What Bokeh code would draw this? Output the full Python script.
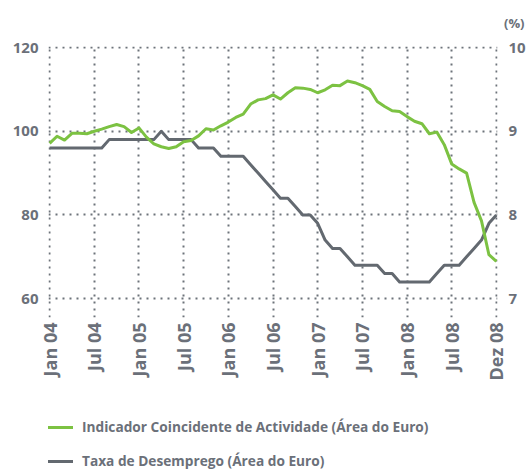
from math import pi
from bokeh.plotting import figure
from bokeh.layouts import column
from bokeh.models import Range1d, LinearAxis, FixedTicker, Legend, LegendItem, Title
from bokeh.embed import file_html
from bokeh.resources import INLINE

# month index (0 = Jan 04)
months = list(range(61))
tick_pos = [0, 6, 12, 18, 24, 30, 36, 42, 48, 54, 60]
tick_labels = ["Jan 04", "Jul 04", "Jan 05", "Jul 05", "Jan 06", "Jul 06",
               "Jan 07", "Jul 07", "Jan 08", "Jul 08", "Dez 08"]
left_ticks = [60, 80, 100, 120]
right_ticks = [7, 8, 9, 10]

indicador = [97.1, 98.8, 97.9, 99.5, 99.5, 99.4, 100.0, 100.5, 101.1, 101.6,
             101.1, 99.7, 100.8, 98.6, 97.0, 96.3, 95.9, 96.3, 97.5, 97.8,
             98.9, 100.6, 100.3, 101.3, 102.2, 103.3, 104.1, 106.5, 107.5, 107.8,
             108.7, 107.7, 109.2, 110.4, 110.3, 110.0, 109.2, 109.9, 111.0, 110.9,
             112.0, 111.6, 110.9, 110.0, 107.1, 105.9, 104.9, 104.7, 103.5, 102.4,
             101.8, 99.4, 99.8, 96.8, 92.2, 91.0, 90.0, 83.0, 78.6, 70.5, 68.9]

desemprego = [8.8, 8.8, 8.8, 8.8, 8.8, 8.8, 8.8, 8.8,
              8.9, 8.9, 8.9, 8.9, 8.9, 8.9, 8.9,
              9.0,
              8.9, 8.9, 8.9, 8.9,
              8.8, 8.8, 8.8,
              8.7, 8.7, 8.7, 8.7,
              8.6, 8.5, 8.4, 8.3, 8.2, 8.2, 8.1, 8.0, 8.0, 7.9,
              7.7, 7.6, 7.6, 7.5, 7.4, 7.4, 7.4, 7.4, 7.3, 7.3,
              7.2, 7.2, 7.2, 7.2, 7.2,
              7.3, 7.4, 7.4, 7.4, 7.5, 7.6, 7.7, 7.9, 8.0]

label_green = "Indicador Coincidente de Actividade (Área do Euro)"
label_grey = "Taxa de Desemprego (Área do Euro)"
unit_label = "(%)"

FONT = "Open Sans"
TXT = "#6b7079"
GREEN = "#7cc242"
GREY = "#636970"

p = figure(width=528, height=400,
           x_range=Range1d(-0.15, 60.15), y_range=Range1d(55.5, 120.25),
           output_backend="svg", toolbar_location=None,
           min_border_left=48, min_border_right=28, min_border_top=46,
           min_border_bottom=83)
p.extra_y_ranges = {"pct": Range1d(6.775, 10.0125)}
p.outline_line_color = None
p.background_fill_color = "white"
p.border_fill_color = "white"

t = Title(text=unit_label, align="right", vertical_align="top", offset=-27,
          standoff=26, text_font=FONT, text_font_style="bold",
          text_font_size="13px", text_color=TXT)
p.add_layout(t, "above")

xa = p.xaxis[0]
xa.ticker = FixedTicker(ticks=tick_pos)
xa.major_label_overrides = {tp: tl for tp, tl in zip(tick_pos, tick_labels)}
xa.major_label_orientation = pi / 2
xa.major_label_standoff = 5

ya = p.yaxis[0]
ya.ticker = FixedTicker(ticks=left_ticks)
ya.major_label_standoff = 10

ra = LinearAxis(y_range_name="pct", ticker=FixedTicker(ticks=right_ticks))
ra.major_label_standoff = 11
p.add_layout(ra, "right")

for ax in [xa, ya, ra]:
    ax.axis_line_color = None
    ax.major_tick_line_color = None
    ax.minor_tick_line_color = None
    ax.major_tick_out = 0
    ax.major_tick_in = 0
    ax.minor_tick_out = 0
    ax.major_label_text_font = FONT
    ax.major_label_text_font_style = "bold"
    ax.major_label_text_color = TXT
xa.major_label_text_font_size = "18px"
ya.major_label_text_font_size = "15px"
ra.major_label_text_font_size = "15px"

for g in [p.xgrid[0], p.ygrid[0]]:
    g.grid_line_color = "#6d737a"
    g.grid_line_width = 2
    g.grid_line_dash = "2 5"
p.ygrid[0].ticker = FixedTicker(ticks=left_ticks)
p.xgrid[0].ticker = FixedTicker(ticks=tick_pos)

p.line(months, desemprego, y_range_name="pct", line_color=GREY,
       line_width=3, line_join="round")
p.line(months, indicador, line_color=GREEN, line_width=3, line_join="round")

# legend panel below the chart (its own lines lie outside its view)
p2 = figure(width=528, height=70, x_axis_location=None, y_axis_location=None,
            toolbar_location=None, output_backend="svg", min_border=0,
            x_range=Range1d(0, 1), y_range=Range1d(0, 1))
p2.outline_line_color = None
p2.grid.visible = False
lg_green = p2.line(months, indicador, line_color=GREEN, line_width=3)
lg_grey = p2.line(months, desemprego, line_color=GREY, line_width=3)

legend = Legend(items=[LegendItem(label=label_green, renderers=[lg_green]),
                       LegendItem(label=label_grey, renderers=[lg_grey])],
                location=(-8, 0), orientation="vertical",
                glyph_width=33, glyph_height=16, label_height=16,
                label_standoff=9, spacing=15, padding=0, margin=0,
                border_line_color=None, background_fill_alpha=0,
                label_text_font=FONT, label_text_font_style="bold",
                label_text_font_size="13.7px", label_text_color=TXT)
p2.add_layout(legend)

layout = column(p, p2, spacing=0)
open("out.html", "w").write(file_html(layout, INLINE))
